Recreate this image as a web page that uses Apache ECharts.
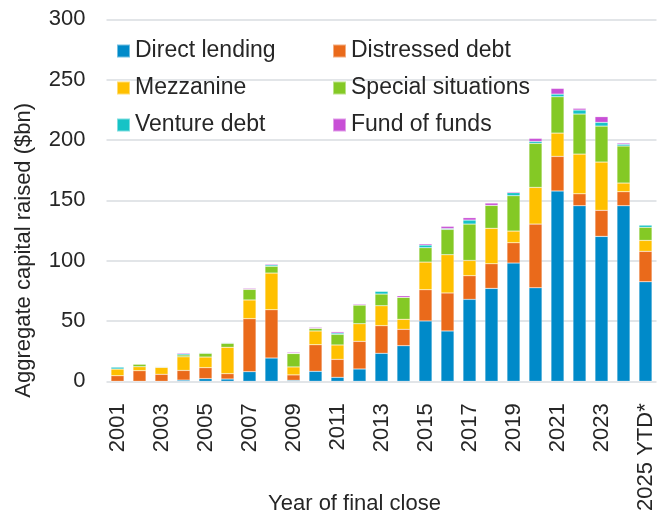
<!DOCTYPE html>
<html>
<head>
<meta charset="utf-8">
<script src="https://cdn.jsdelivr.net/npm/echarts@6/dist/echarts.min.js"></script>
<style>
  html, body { margin: 0; padding: 0; background: #fff; }
  #chart { width: 662px; height: 513px; }
</style>
</head>
<body>
<div id="chart"></div>
<script>
// Private debt fundraising by strategy, $bn, by year of final close
const years = ['2001', '2002', '2003', '2004', '2005', '2006', '2007', '2008', '2009', '2010',
  '2011', '2012', '2013', '2014', '2015', '2016', '2017', '2018', '2019', '2020',
  '2021', '2022', '2023', '2024', '2025 YTD*'];

const directLending = [0, 0, 0, 1, 2.2, 1.9, 8, 19.3, 0.8, 8.3, 3.3, 10.2, 23.2, 29.5, 50, 41.7, 67.9, 77, 98, 77.5, 157.7, 145.5, 120.1, 145.5, 82.5];
const distressedDebt = [4.6, 8.8, 5.8, 8, 9.1, 4.4, 43.9, 40, 4.5, 22, 14.9, 22.9, 22.9, 13.6, 25.9, 31.5, 19.6, 20.4, 16.8, 52.8, 28.7, 9.9, 21.6, 11.6, 25.2];
const mezzanine = [5.6, 3.3, 5.8, 11.3, 8.8, 21.9, 15.5, 30.4, 6.6, 11.4, 11.9, 14.6, 16.5, 8.3, 22.9, 31.7, 12.7, 29.4, 9.7, 30.4, 19.3, 32.9, 40, 7.2, 9.1];
const specialSituations = [0, 2.2, 0, 1.5, 3.1, 3.3, 8.8, 5.6, 11.1, 2.2, 8.8, 15.5, 9.7, 18.2, 11.9, 21, 30.1, 19, 29.3, 36.5, 30.1, 33.2, 29.8, 30.7, 10.8];
const ventureDebt = [1.6, 0, 0.5, 1, 0.5, 0.5, 0, 1.1, 0.3, 0, 1.1, 0, 2.3, 0, 2.2, 0.7, 3.3, 0, 2.5, 1.6, 2.2, 3.3, 3.1, 1.4, 1.9];
const fundOfFunds = [0, 0, 0, 0.8, 0, 0, 0.8, 0.8, 0.8, 0.8, 1.1, 0.8, 0.3, 1.3, 1.1, 1.8, 2, 1.9, 0.8, 2.5, 4.7, 1.4, 4.7, 1, 0];

const yTicks = { min: 0, max: 300, interval: 50 };

const seriesDefs = [
  { name: 'Direct lending', data: directLending, color: '#008ac9' },
  { name: 'Distressed debt', data: distressedDebt, color: '#ea6a1b' },
  { name: 'Mezzanine', data: mezzanine, color: '#ffc000' },
  { name: 'Special situations', data: specialSituations, color: '#84c925' },
  { name: 'Venture debt', data: ventureDebt, color: '#17c3c6' },
  { name: 'Fund of funds', data: fundOfFunds, color: '#c84fd6' }
];

const FONT = "'Liberation Sans', Arial, sans-serif";
const TEXT = '#262626';

const legendBase = {
  orient: 'vertical',
  padding: 0,
  itemWidth: 13,
  itemHeight: 13,
  itemGap: 13,
  icon: 'rect',
  selectedMode: false,
  textStyle: { fontFamily: FONT, fontSize: 23, color: TEXT, lineHeight: 24 }
};

const chart = echarts.init(document.getElementById('chart'), null, { renderer: 'canvas' });
chart.setOption({
  animation: false,
  backgroundColor: '#fff',
  grid: { left: 106.5, right: 5.5, top: 19.3, bottom: 131.7, containLabel: false, outerBoundsMode: 'none' },
  legend: [
    Object.assign({}, legendBase, { left: 116, top: 39, data: ['Direct lending', 'Mezzanine', 'Venture debt'] }),
    Object.assign({}, legendBase, { left: 332, top: 39, data: ['Distressed debt', 'Special situations', 'Fund of funds'] })
  ],
  xAxis: {
    type: 'category',
    data: years,
    name: 'Year of final close',
    nameLocation: 'middle',
    nameGap: 112,
    nameMoveOverlap: false,
    nameTextStyle: { fontFamily: FONT, fontSize: 22, color: TEXT, padding: [0, 54, 0, 0] },
    axisLine: { show: false },
    axisTick: { show: false },
    axisLabel: {
      interval: 1,
      rotate: 90,
      margin: 22,
      fontFamily: FONT,
      fontSize: 22,
      color: TEXT
    }
  },
  yAxis: {
    type: 'value',
    min: yTicks.min,
    max: yTicks.max,
    interval: yTicks.interval,
    name: 'Aggregate capital raised ($bn)',
    nameLocation: 'middle',
    nameGap: 72,
    nameRotate: 90,
    nameMoveOverlap: false,
    nameTextStyle: { fontFamily: FONT, fontSize: 22, color: TEXT, padding: [0, 100, 0, 0] },
    axisLine: { show: false },
    axisTick: { show: false },
    axisLabel: { margin: 21, fontFamily: FONT, fontSize: 22, color: TEXT },
    splitLine: { show: true, lineStyle: { color: '#d9dce1', width: 1.6 } }
  },
  series: seriesDefs.map(s => ({
    name: s.name,
    type: 'bar',
    stack: 'total',
    data: s.data,
    barWidth: 13,
    itemStyle: { color: s.color, borderColor: 'rgba(255,255,255,0.45)', borderWidth: 0.5 },
    emphasis: { disabled: true }
  }))
});
</script>
</body>
</html>
